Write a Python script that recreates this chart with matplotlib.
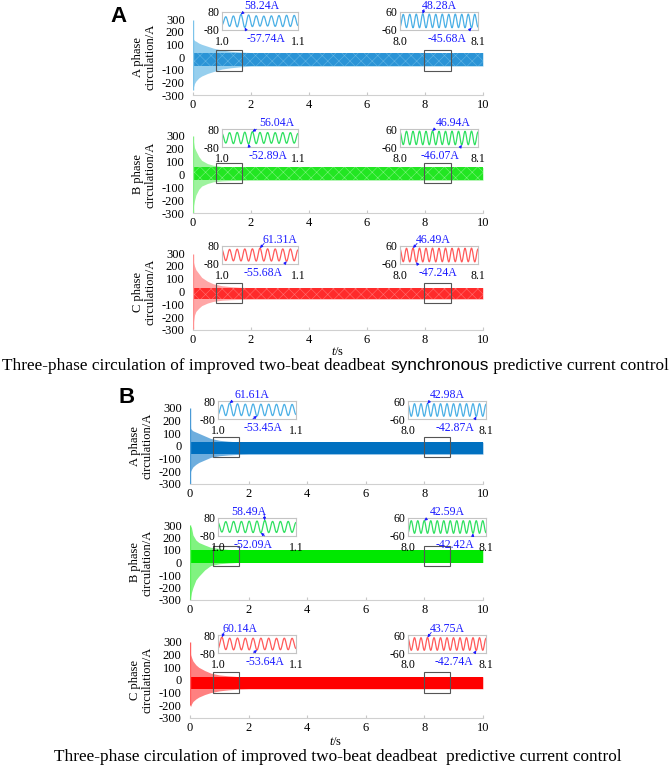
import numpy as np
import matplotlib.pyplot as plt
from matplotlib.patches import Rectangle

plt.rcParams['font.family'] = ['Liberation Serif', 'DejaVu Serif']
plt.rcParams['mathtext.fontset'] = 'custom'
plt.rcParams['mathtext.it'] = 'Liberation Serif:italic'
plt.rcParams['mathtext.rm'] = 'Liberation Serif'
plt.rcParams['axes.unicode_minus'] = False
plt.rcParams['hatch.linewidth'] = 0.4

W, H = 671, 770

# ---- data ----
phases = ['A', 'B', 'C']
t_env = [0, 0.02, 0.05, 0.1, 0.2, 0.3, 0.5, 0.7, 1.0, 1.3, 1.6, 2.0, 10.0]

# panel A (synchronous): transient envelope, steady band, t=0 spike
syn_A_hi = [150, 140, 130, 125, 110, 100, 85, 70, 55, 45, 40, 35, 35]
syn_A_lo = [-250, -235, -210, -190, -165, -150, -130, -115, -95, -85, -78, -72, -72]
syn_B_hi = [300, 250, 210, 185, 140, 110, 85, 72, 62, 58, 56, 55, 55]
syn_B_lo = [-300, -240, -205, -160, -115, -90, -70, -57, -50, -47, -46, -45, -45]
syn_C_hi = [260, 225, 200, 170, 140, 110, 80, 60, 45, 38, 33, 30, 30]
syn_C_lo = [-290, -230, -185, -155, -130, -110, -90, -77, -68, -64, -62, -60, -60]
syn_band = [(-72, 35), (-45, 55), (-60, 30)]
syn_spike = [(-260, 290), (-300, 300), (-290, 290)]
syn_rect_y = [(-110, 55), (-66, 90), (-90, 65)]

# panel B
asy_A_hi = [300, 140, 130, 120, 110, 100, 80, 60, 45, 38, 33, 30, 30]
asy_A_lo = [-300, -200, -185, -165, -145, -130, -110, -90, -77, -71, -67, -65, -65]
asy_B_hi = [300, 290, 280, 220, 180, 160, 140, 122, 112, 105, 101, 100, 100]
asy_B_lo = [-300, -280, -240, -200, -140, -110, -60, -25, -10, -4, 0, 0, 0]
asy_C_hi = [300, 200, 180, 150, 120, 100, 75, 55, 40, 33, 28, 25, 25]
asy_C_lo = [-200, -210, -190, -170, -150, -135, -115, -100, -86, -78, -73, -70, -70]
asy_band = [(-65, 30), (0, 100), (-70, 25)]
asy_spike = [(-300, 300), (-300, 300), (-200, 300)]
asy_rect_y = [(-87, 71), (-28, 132), (-105, 62)]

rect_x = [(0.78, 1.68), (7.97, 8.88)]

# zoomed windows: successive extrema (evenly spaced over the window)
win_left = (1.0, 1.1)
win_right = (8.0, 8.1)
lim_left = 80
lim_right = 60

syn_left_A = [-35, 38, -48, 45, -52, 58.24, -57.74, 54, -50, 47, -46, 44, -45, 46, -48, 49, -50, 51, -49, 50, -40]
syn_right_A = [-40, 44, -44, 45, -45, 46, -45, 48.28, -45, 46, -44, 45, -45, 46, -44, 45, -45, 46, -44, 45, -45, 46, -45.68, 45, -40]
syn_left_B = [40, -45, 48, -50, 50, -51, 52, -52.89, 56.04, -50, 50, -48, 49, -47, 48, -48, 49, -47, 48, -46, 40]
syn_right_B = [40, -44, 45, -45, 45, -44, 46, -45, 45, -45, 46.94, -45, 45, -44, 45, -45, 46, -45, 45, -46.07, 45, -45, 46, -45, 40]
syn_left_C = [45, -50, 50, -52, 52, -53, 54, -54, 55, -54, 61.31, -54, 55, -54, 54, -53, 54, -55.68, 54, -52, 45]
syn_right_C = [40, -45, 45, -46, 46.49, -47.24, 46, -46, 45, -45, 46, -46, 45, -45, 46, -46, 45, -45, 46, -46, 45, -45, 46, -46, 40]

asy_left_A = [-40, 45, -50, 61.61, -52, 55, -50, 52, -52, 53, -53.45, 52, -51, 52, -50, 51, -50, 50, -49, 50, -40]
asy_right_A = [38, -42, 42, -42, 42, -42, 42.98, -42, 42, -42, 42, -42, 42, -42, 42, -42, 42, -42, 42, -42, 42, -42.87, 42, -42, 38]
asy_left_B = [40, -45, 48, -48, 50, -50, 50, -50, 52, -50, 53, -52.09, 58.49, -50, 50, -49, 50, -48, 50, -48, 40]
asy_right_B = [-38, 42, -42, 42, -42, 42.59, -42, 42, -42, 42, -42, 42, -42, 42, -42, 42, -42, 42, -42, 42, -42.42, 42, -42, 42, -38]
asy_left_C = [-40, 60.14, -50, 52, -52, 53, -52, 52, -52, 52, -53.64, 52, -51, 52, -52, 51, -51, 52, -51, 51, -40]
asy_right_C = [38, -42, 42, -42, 42, -42, 43.75, -42, 42, -42, 42, -42, 42, -42, 42, -42, 42, -42, 42, -42, 42, -42.74, 42, -42, 38]

# ---- layout / style ----
main_col = {'syn': ['#2b94d6', '#22e622', '#ff2b2b'], 'asy': ['#0070c0', '#00e800', '#ff0000']}
halo_col = {'syn': ['#7cc3ea', '#86f086', '#ff9090'], 'asy': ['#4a9ad6', '#60f060', '#ff6060']}
hatch_col = ['#62b5e4', '#7cf27c', '#ff7070']
zoom_col = ['#4bb0e6', '#2fe060', '#ff5a5a']
ann_col = '#1a1aff'

# peak / trough label x (axes fraction) per window
syn_lab_x = [[(0.53, 0.58), (0.51, 0.60)], [(0.72, 0.60), (0.68, 0.51)], [(0.76, 0.54), (0.42, 0.49)]]
asy_lab_x = [[(0.43, 0.58), (0.51, 0.60)], [(0.39, 0.45), (0.50, 0.60)], [(0.28, 0.60), (0.50, 0.59)]]

fig = plt.figure(figsize=(W / 100, H / 100), dpi=100)


def px_axes(x0, y0, x1, y1):
    return fig.add_axes([x0 / W, 1 - y1 / H, (x1 - x0) / W, (y1 - y0) / H])


def wave(ext, win):
    ext = np.asarray(ext, float)
    n = len(ext) - 1
    tk = np.linspace(win[0], win[1], n + 1)
    ts, vs = [], []
    s = np.linspace(0, 1, 12)
    for i in range(n):
        ts.append(tk[i] + (tk[i + 1] - tk[i]) * s)
        vs.append(ext[i] + (ext[i + 1] - ext[i]) * (1 - np.cos(np.pi * s)) / 2)
    return np.concatenate(ts), np.concatenate(vs), tk


def draw_zoom(box, ext, win, lim, col, lab_x):
    ax = px_axes(*box)
    t, v, tk = wave(ext, win)
    ax.plot(t, v, color=col, lw=0.9)
    ax.set_xlim(*win)
    ax.set_ylim(-lim, lim)
    ax.set_yticks([lim, -lim])
    ax.set_yticklabels([str(lim), str(-lim)])
    ax.set_xticks(list(win))
    ax.set_xticklabels(['%.1f' % w for w in win])
    ax.tick_params(axis='y', length=0, labelsize=8.5, pad=2)
    ax.tick_params(axis='x', length=0, labelsize=8.5, pad=4)
    for sp in ax.spines.values():
        sp.set_color('#c4c4c4')
        sp.set_linewidth(0.8)
    ax.patch.set_alpha(0)
    ip = int(np.argmax(ext))
    it = int(np.argmin(ext))
    for idx, fx, above in [(ip, lab_x[0], True), (it, lab_x[1], False)]:
        xt = win[0] + fx * (win[1] - win[0])
        rx = 0.05 if tk[idx] < xt else 0.95
        ax.annotate('%.2fA' % ext[idx], xy=(tk[idx], ext[idx]),
                    xytext=(xt, lim * (1.02 if above else -1.3)),
                    textcoords='data', ha='center',
                    va='bottom' if above else 'top',
                    fontsize=8.5, color=ann_col, annotation_clip=False,
                    arrowprops=dict(arrowstyle='-|>', color=ann_col, lw=0.6,
                                    mutation_scale=4, shrinkA=0, shrinkB=0,
                                    relpos=(rx, 0.2) if above else (rx, 0.8)))
    return ax


def draw_panel(key, xspan, rows, his, los, bands, spikes, rects, zooms, lab_x, zboxes):
    for i, ph in enumerate(phases):
        top, bot = rows[i]
        ax = px_axes(xspan[0], top, xspan[1], bot)
        ax.fill_between(t_env, los[i], his[i], color=halo_col[key][i], lw=0, alpha=0.8)
        ax.fill_between([0, 10], bands[i][0], bands[i][1], color=main_col[key][i], lw=0)
        if key == 'syn':
            # beat texture of the steady band
            ax.fill_between([0, 10], bands[i][0], bands[i][1], facecolor='none',
                            edgecolor=hatch_col[i], hatch='xxx', lw=0)
        ax.vlines(0, spikes[i][0], spikes[i][1], color=halo_col[key][i], lw=1.0)
        for xr in rect_x:
            ax.add_patch(Rectangle((xr[0], rects[i][0]), xr[1] - xr[0],
                                   rects[i][1] - rects[i][0], fill=False,
                                   ec='#555555', lw=0.8, zorder=5))
        ax.set_xlim(0, 10)
        ax.set_ylim(-300, 300)
        ax.set_yticks(range(-300, 301, 100))
        ax.set_xticks(range(0, 11, 2))
        for s in ['top', 'right', 'left']:
            ax.spines[s].set_visible(False)
        ax.spines['bottom'].set_color('#d0d0d0')
        ax.tick_params(axis='y', length=0, labelsize=9, pad=6)
        ax.tick_params(axis='x', direction='in', length=2, color='#c8c8c8',
                       labelsize=9, pad=3)
        ax.set_ylabel('%s phase\ncirculation/A' % ph, fontsize=9, linespacing=1.0,
                      labelpad=4)
        for j in range(2):
            zx = zboxes[j]
            draw_zoom((zx[0], top - 7, zx[1], top + 11), zooms[i][j],
                      [win_left, win_right][j], [lim_left, lim_right][j],
                      zoom_col[i], lab_x[i][j])


draw_panel('syn', (193, 483), [(19, 95), (136, 213), (253, 330)],
           [syn_A_hi, syn_B_hi, syn_C_hi], [syn_A_lo, syn_B_lo, syn_C_lo],
           syn_band, syn_spike, syn_rect_y,
           [[syn_left_A, syn_right_A], [syn_left_B, syn_right_B], [syn_left_C, syn_right_C]],
           syn_lab_x, [(222, 298), (400, 478)])
draw_panel('asy', (190, 483), [(408, 484), (525, 600), (642, 718)],
           [asy_A_hi, asy_B_hi, asy_C_hi], [asy_A_lo, asy_B_lo, asy_C_lo],
           asy_band, asy_spike, asy_rect_y,
           [[asy_left_A, asy_right_A], [asy_left_B, asy_right_B], [asy_left_C, asy_right_C]],
           asy_lab_x, [(218, 296), (408, 486)])

fig.text(338 / W, 1 - 352 / H, r'$t$/s', ha='center', va='center', fontsize=9)
fig.text(336 / W, 1 - 742 / H, r'$t$/s', ha='center', va='center', fontsize=9)

fig.text(110 / W, 1 - 22 / H, 'A', fontsize=16, fontweight='bold',
         family='Liberation Sans', va='baseline')
fig.text(119 / W, 1 - 403 / H, 'B', fontsize=16, fontweight='bold',
         family='Liberation Sans', va='baseline')


def caption(parts, cx, y, size):
    r = fig.canvas.get_renderer()
    texts = []
    for s, fam in parts:
        texts.append(fig.text(0, 1 - y / H, s, fontsize=size, family=fam,
                              va='baseline'))
    widths = [t.get_window_extent(r).width for t in texts]
    x = cx - sum(widths) / 2
    for t, w in zip(texts, widths):
        t.set_x(x / W)
        x += w


caption([('Three-phase circulation of improved two-beat deadbeat ', 'Liberation Serif'),
         ('synchronous', 'Liberation Sans'),
         (' predictive current control', 'Liberation Serif')], 335.5, 370, 12.4)
caption([('Three-phase circulation of improved two-beat deadbeat  predictive current control',
          'Liberation Serif')], 338, 761, 12.4)

fig.savefig('out.png', dpi=100)
